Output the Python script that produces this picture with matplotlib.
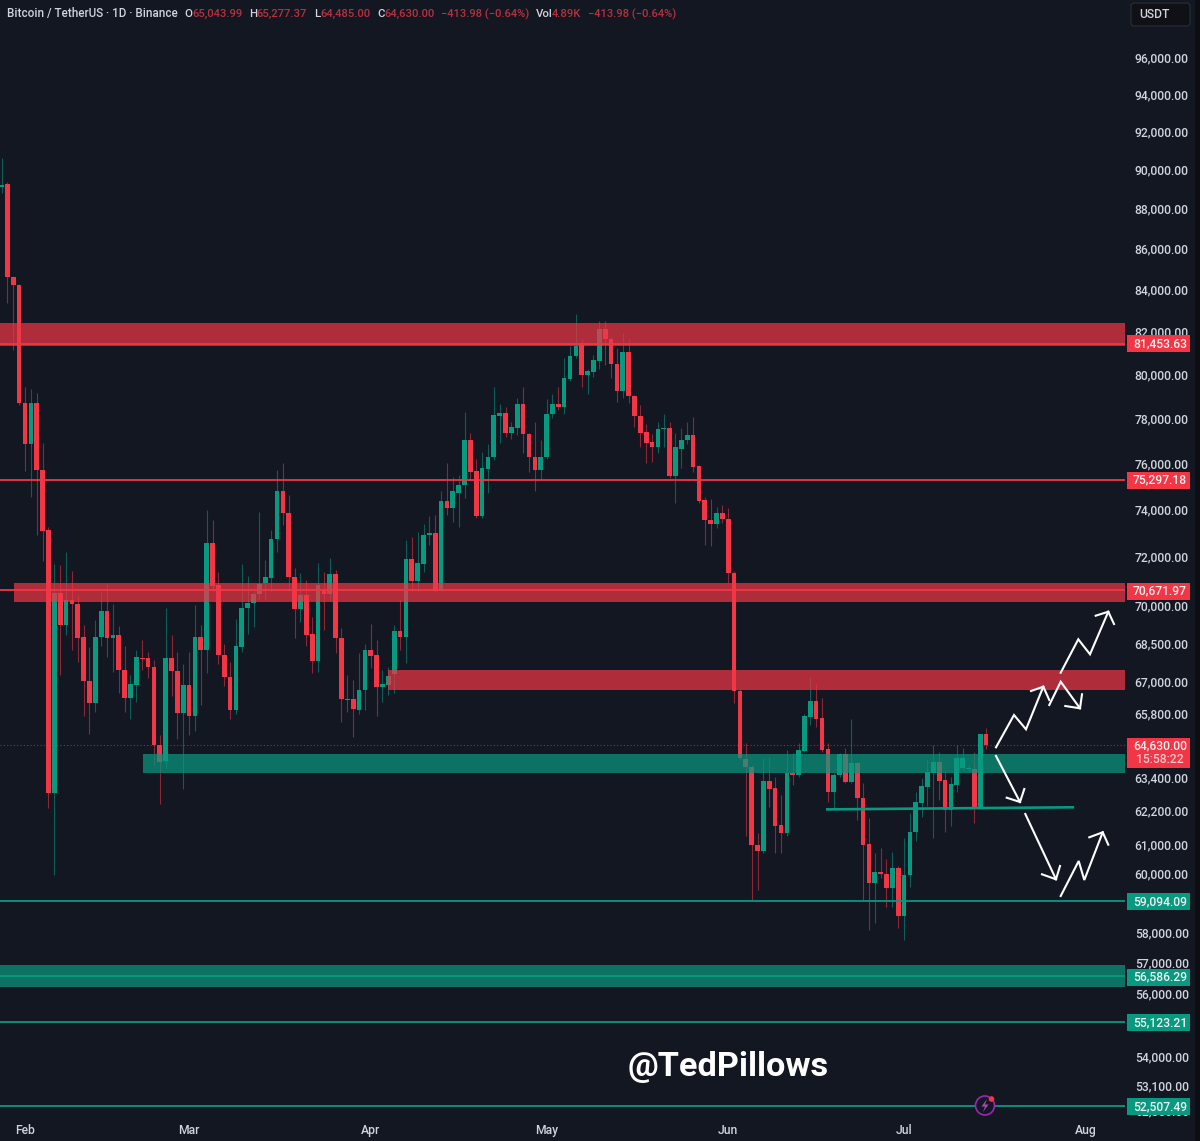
import matplotlib
matplotlib.use('Agg')
import matplotlib.pyplot as plt
from matplotlib.patches import Circle, FancyBboxPatch, Polygon
from matplotlib.transforms import ScaledTranslation
import numpy as np

plt.rcParams['font.family'] = ['Roboto', 'DejaVu Sans']

# daily candles, day 0 = 1 Feb
first_day = -4
opens = [89140, 89285, 84630, 84240, 78700, 76900, 78700, 75725, 73156, 62868,
         70544, 69260, 70257, 70100, 68805, 67060, 66210, 68805, 69820, 68765,
         68860, 67490, 66400, 66925, 67950, 67950, 67600, 64630, 64040, 67950,
         67450, 65835, 66925, 65720, 68805, 68262, 72640, 70870, 68070, 67220,
         65950, 68380, 69940, 70140, 70500, 70955, 71165, 72775, 74845, 73875,
         71205, 69900, 70460, 68900, 67840, 70660, 70500, 71325, 68765, 66365,
         66365, 65950, 66740, 68262, 68070, 66850, 66925, 67335, 69020, 68805,
         71940, 71040, 71736, 72945, 73030, 70660, 74380, 74085, 74760, 75100,
         77040, 75680, 73745, 75770, 76290, 78120, 78250, 77380, 77585, 78655,
         77340, 76290, 75725, 76290, 78205, 78655, 78520, 79805, 80860, 81415,
         79985, 80125, 80630, 82170, 81690, 80490, 79250, 81090, 79060, 78120,
         77425, 76990, 76770, 77540, 77585, 75465, 76680, 77040, 77290, 75900,
         74422, 73580, 73410, 73875, 73620, 71365, 66700, 64110, 63820, 61010,
         60800, 63310, 63050, 61725, 61450, 63600, 63525, 64405, 65680, 66285,
         65645, 64480, 62900, 63525, 64295, 63270, 63965, 62685, 61045, 59715,
         60075, 60000, 59515, 60215, 58570, 59974, 61490, 62505, 63085, 63600,
         64000, 63345, 62260, 63160, 63780, 63745, 63745, 62365, 65043.99]
highs = [90630, 89400, 84700, 84300, 79435, 79340, 79195, 76945, 73280, 71736,
         71695, 72228, 71450, 70460, 69260, 68380, 69460, 70585, 70910, 70100,
         69220, 68455, 67295, 68262, 68660, 68185, 67875, 65000, 69940, 68860,
         68185, 67720, 68185, 70060, 69260, 74000, 73575, 71410, 68530, 67800,
         69500, 71736, 71245, 70660, 73915, 71900, 73155, 75725, 76030, 74635,
         71570, 71365, 71075, 69580, 71780, 71410, 71980, 71490, 69140, 67295,
         67100, 68145, 68530, 69300, 68660, 67490, 67600, 69260, 70257, 72730,
         72855, 73065, 73410, 73745, 73790, 74845, 76030, 75420, 75510, 78300,
         77380, 76200, 76510, 76900, 79435, 78655, 78520, 77850, 78925, 79435,
         77380, 77850, 77040, 78880, 79150, 79435, 80770, 81370, 82850, 81690,
         80260, 80910, 82550, 82550, 81790, 81275, 81970, 81690, 79100, 78610,
         77785, 77340, 77850, 78205, 77850, 77380, 77585, 77850, 78070, 75940,
         74550, 74505, 74125, 74210, 74085, 71450, 66780, 64735, 63890, 61455,
         64150, 64185, 63450, 62790, 64441, 64330, 64735, 65800, 67220, 66965,
         66400, 64735, 63600, 64330, 64550, 65610, 64000, 63230, 61970, 60735,
         60905, 60525, 60770, 60285, 61285, 62150, 62900, 63415, 64075, 64660,
         64370, 63635, 63450, 64660, 64515, 63890, 64370, 65070, 65277.37]
lows = [88820, 83370, 81137, 78610, 75680, 74590, 72945, 71860, 62330, 59974,
        67295, 68860, 68262, 67800, 65720, 65070, 65870, 68455, 67990, 67410,
        66590, 65870, 65610, 66250, 67490, 67180, 63890, 62470, 63780, 66475,
        64880, 63015, 65025, 65170, 66135, 67370, 70660, 67720, 66890, 65610,
        65800, 68185, 68920, 69180, 70257, 70257, 70660, 72230, 73365, 70660,
        68765, 69380, 68455, 67370, 67410, 69060, 70257, 68145, 65490, 65870,
        64955, 65800, 65950, 67565, 65720, 66250, 66515, 66590, 68262, 67760,
        70660, 70580, 71410, 72520, 70580, 70620, 73790, 73490, 73280, 74510,
        75290, 73660, 73660, 74760, 76160, 76945, 77200, 77120, 77290, 76465,
        75640, 74845, 75290, 76200, 78030, 78385, 78205, 79715, 80770, 79435,
        79150, 79895, 80260, 80445, 79850, 78745, 78925, 78700, 77630, 76730,
        76030, 76075, 76465, 76730, 75375, 74295, 75810, 76900, 75640, 74295,
        72520, 72475, 73240, 73450, 70955, 66210, 64075, 61350, 59110, 59450,
        60735, 62365, 60735, 60735, 61350, 63160, 63450, 64370, 65380, 65305,
        64370, 62540, 62330, 63450, 63230, 63230, 61900, 59110, 58100, 58340,
        59865, 58875, 58875, 58170, 57770, 59560, 61180, 62010, 62400, 61285,
        62612, 61490, 61690, 62900, 63710, 63635, 61795, 62295, 64485]
closes = [89235, 84630, 84240, 78700, 76900, 78700, 75725, 73115, 62868, 70544,
          69260, 70257, 70100, 68765, 67060, 66210, 68805, 69820, 68765, 68860,
          67490, 66400, 66965, 67990, 67910, 67600, 64630, 64000, 67950, 67450,
          65835, 66925, 65720, 68805, 68262, 72640, 70830, 68070, 67220, 65950,
          68420, 69940, 70140, 70500, 70910, 71205, 72775, 74845, 73875, 71205,
          69900, 70460, 68860, 67840, 70870, 70500, 71325, 68765, 66365, 66325,
          65985, 66740, 68262, 68030, 66850, 66965, 67255, 69020, 68805, 71940,
          71040, 71780, 72945, 73030, 70660, 74380, 74085, 74810, 75100, 77040,
          75640, 73745, 75810, 76290, 78160, 78250, 77380, 77630, 78655, 77340,
          76290, 75725, 76290, 78205, 78655, 78520, 79850, 80860, 81370, 79985,
          80170, 80680, 82170, 81690, 80490, 79250, 81090, 79060, 78120, 77380,
          76945, 76770, 77540, 77585, 75465, 76730, 77040, 77290, 75855, 74380,
          73580, 73410, 73875, 73620, 71365, 66700, 64150, 63820, 61010, 60800,
          63310, 63015, 61690, 61450, 63600, 63525, 64441, 65720, 66285, 65610,
          64441, 62900, 63525, 64295, 63270, 63965, 62685, 61010, 59715, 60075,
          60000, 59515, 60215, 58570, 59974, 61490, 62540, 63125, 63635, 64000,
          63310, 62260, 63195, 64150, 64150, 63780, 62365, 65043.99, 64630]

# zones: start day, low, high
red_start = [-4.27, -1.87, 61.9]
red_low = [81370, 70177, 66740]
red_high = [82420, 70985, 67490]
green_start = [20.1, -4.27]
green_low = [63600, 56221]
green_high = [64295, 56938]

red_levels = [81453.63, 75297.18, 70671.97]
green_levels = [59094.09, 56586.29, 55123.21, 52507.49]

price_ticks = [96000, 94000, 92000, 90000, 88000, 86000, 84000, 82000, 80000,
               78000, 76000, 74000, 72000, 70000, 68500, 67000, 65800, 63400,
               62200, 61000, 60000, 58000, 57000, 56000, 54000, 53100, 52350]
month_days = [0, 28, 59, 89, 120, 150, 181]
month_names = ['Feb', 'Mar', 'Apr', 'May', 'Jun', 'Jul', 'Aug']

last_price = 64630.00
zone_end = 187.7

bg = '#131722'
red = '#f23645'
green = '#089981'

fig = plt.figure(figsize=(12, 11.41), dpi=100, facecolor=bg)
ax = fig.add_axes([0, 0, 1, 1], facecolor=bg)
ax.set_yscale('log')
ax.set_xlim(-4.266, 200.5)
ax.set_ylim(51458, 99290)

######
# candles
######
o = np.array(opens, dtype=float)
h = np.array(highs, dtype=float)
l = np.array(lows, dtype=float)
c = np.array(closes, dtype=float)
days = np.arange(first_day, first_day + len(o))
up = c >= o
colors = np.where(up, green, red)

ax.vlines(days, l, h, colors=colors, linewidth=0.8, alpha=0.55, zorder=2)
bottoms = np.minimum(o, c)
heights = np.maximum(np.abs(c - o), 25)
ax.bar(days, heights, bottom=bottoms, width=0.8, color=colors, linewidth=0, zorder=3)

######
# zones and levels
######
for s, lo, hi in zip(red_start, red_low, red_high):
    ax.fill_between([s, zone_end], lo, hi, color=red, alpha=0.7, linewidth=0, zorder=4)
for s, lo, hi in zip(green_start, green_low, green_high):
    ax.fill_between([s, zone_end], lo, hi, color=green, alpha=0.7, linewidth=0, zorder=4)
for lv in red_levels:
    ax.hlines(lv, -4.27, zone_end, color=red, linewidth=1.3, zorder=5)
for lv in green_levels:
    ax.hlines(lv, -4.27, zone_end, color=green, linewidth=1.3, zorder=5)
ax.hlines(last_price, -4.27, zone_end, color=red, linewidth=0.8, alpha=0.6,
          linestyle=(0, (1, 2)), zorder=2)
ax.plot([136.9, 178.8], [62290, 62365], color=green, linewidth=1.9, zorder=6)

######
# axes
######
ax.minorticks_off()
ax.set_yticks(price_ticks)
ax.set_yticklabels(['{:,.2f}'.format(p) for p in price_ticks], fontweight='medium')
ax.set_xticks(month_days)
ax.set_xticklabels(month_names, fontweight='medium')
ax.yaxis.tick_right()
ax.tick_params(axis='y', which='both', length=0, pad=-47, labelsize=8.7, labelcolor='#d1d4dc')
ax.tick_params(axis='x', which='both', length=0, pad=-12.5, labelsize=8.7, labelcolor='#d1d4dc')
ax.set_axisbelow(False)
for s in ax.spines.values():
    s.set_visible(False)
# price labels sit one pixel higher
nudge = ScaledTranslation(0, 1 / 100, fig.dpi_scale_trans)
for lbl in ax.get_yticklabels():
    lbl.set_transform(lbl.get_transform() + nudge)

# overlay in picture pixels, for the header, price tags and hand drawn arrows
ov = fig.add_axes([0, 0, 1, 1], facecolor='none')
ov.set_xlim(0, 1200)
ov.set_ylim(1141, 0)
ov.axis('off')

ov.fill_between([1195, 1200], 0, 1141, color='#0c0e14', linewidth=0)

# header
head = [(7, 'Bitcoin / TetherUS · 1D · Binance', '#d1d4dc', 8.4),
        (184, 'O', '#d1d4dc', 8.2), (192, '65,043.99', '#b8303e', 8.1),
        (249, 'H', '#d1d4dc', 8.2), (256.5, '65,277.37', '#b8303e', 8.1),
        (314, 'L', '#d1d4dc', 8.2), (320, '64,485.00', '#b8303e', 8.1),
        (377, 'C', '#d1d4dc', 8.2), (384.5, '64,630.00', '#b8303e', 8.1),
        (441, '−413.98 (−0.64%)', '#b8303e', 8.0),
        (536, 'Vol', '#d1d4dc', 8.2), (552, '4.89K', '#b8303e', 8.1),
        (588, '−413.98 (−0.64%)', '#b8303e', 8.0)]
for x, t, col, fs in head:
    ov.text(x, 14, t, color=col, fontsize=fs, fontweight='medium', ha='left', va='center')

# USDT button
ov.add_patch(FancyBboxPatch((1131, 3), 59, 23, boxstyle='round,pad=0,rounding_size=3',
                            facecolor='#0f1117', edgecolor='#2a2e39', linewidth=0.8))
ov.text(1139, 14.5, 'USDT', color='#d1d4dc', fontsize=8.7, fontweight='medium', ha='left', va='center')

# price tags
tags = [('81,453.63', 343.8, red), ('75,297.18', 480.2, red), ('70,671.97', 591, red),
        ('59,094.09', 901.5, green), ('56,586.29', 977, green), ('55,123.21', 1022.5, green),
        ('52,507.49', 1106.5, green)]
for t, y, col in tags:
    ov.fill_between([1127, 1190], y - 8.5, y + 8.5, color=col, linewidth=0)
    ov.text(1160, y, t, color='#f0f0f0', fontsize=8.7, fontweight='medium', ha='center', va='center')
ov.fill_between([1127, 1190], 738, 768, color=red, linewidth=0)
ov.text(1160, 745.5, '64,630.00', color='#f0f0f0', fontsize=8.7, fontweight='medium', ha='center', va='center')
ov.text(1160, 759.5, '15:58:22', color='#f8c8cc', fontsize=8.7, fontweight='medium', ha='center', va='center')

# white arrows
arrows = [([(996, 747.3), (1014, 715), (1026, 729.3), (1043.3, 686.7)], (1031, 691), (1049.3, 700)),
          ([(1049.3, 705), (1060.7, 681.7), (1080, 708.3)], (1065.3, 706), (1082, 694.3)),
          ([(1060.7, 672.7), (1078.3, 639.3), (1090, 654.3), (1108.3, 611.7)], (1095.7, 615.7), (1114, 624)),
          ([(996, 756), (1020, 802)], (1006.7, 797.7), (1024.3, 789)),
          ([(1025.3, 814), (1056, 879.3)], (1042, 874.3), (1060, 866)),
          ([(1060.7, 896), (1078.7, 861), (1084.3, 880), (1102.7, 832.3)], (1089.3, 837.3), (1108.3, 844.7))]
for pts, b1, b2 in arrows:
    xs = [p[0] for p in pts]
    ys = [p[1] for p in pts]
    ov.plot(xs, ys, color='white', linewidth=1.5, solid_joinstyle='miter')
    tip = pts[-1]
    ov.plot([b1[0], tip[0], b2[0]], [b1[1], tip[1], b2[1]], color='white', linewidth=1.5,
            solid_joinstyle='miter')

# watermark
ov.text(628, 1067, '@TedPillows', color='white', fontsize=24.7, fontweight='bold',
        ha='left', va='center')

# flash icon
ov.add_patch(Circle((985, 1105.5), 9.5, facecolor=bg, edgecolor='#9c27b0', linewidth=1.2))
ov.add_patch(Polygon([(987, 1099), (981.5, 1106.5), (985, 1106.5), (983, 1112), (988.5, 1104.5),
                      (985, 1104.5)], closed=True, facecolor='#ab47bc', edgecolor='none'))
ov.add_patch(Circle((991.5, 1099), 2.8, facecolor=red, edgecolor='none'))

fig.savefig('out.png', dpi=100, facecolor=bg)
